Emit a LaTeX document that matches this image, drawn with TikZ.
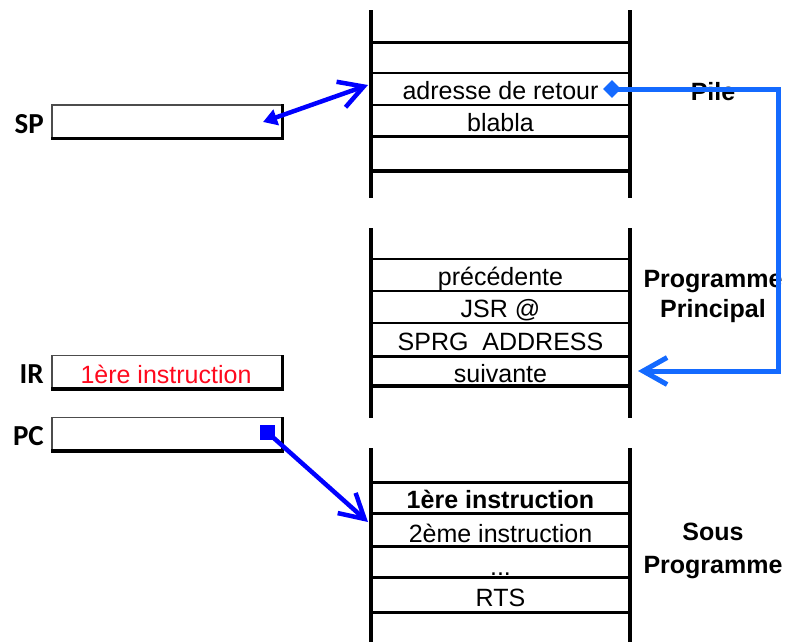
\documentclass[tikz,border=0pt]{standalone}
\usepackage{fontspec}
\setmainfont{Liberation Sans}
\newfontfamily\regfont{Carlito}
\usetikzlibrary{arrows.meta,shapes.geometric}
\definecolor{pblue}{RGB}{20,106,255}
\definecolor{dblue}{RGB}{0,0,255}
\definecolor{ired}{RGB}{255,10,30}
\begin{document}
\begin{tikzpicture}[x=1pt,y=-1pt,
  cell/.style={font=\fontsize{25}{25}\selectfont, anchor=base, inner sep=0},
  lab/.style={font=\fontsize{25}{25}\selectfont\bfseries, anchor=base, inner sep=0},
  reg/.style={font=\regfont\fontsize{29}{29}\selectfont\bfseries, anchor=base east, inner sep=0},
  regbox/.style={draw=black!70, line width=1.2pt, fill=white, minimum width=230pt, minimum height=33pt, inner sep=0},
  wall/.style={line width=4pt},
  thin row/.style={line width=1.4pt},
  mid row/.style={line width=3pt},
  thick row/.style={line width=4.5pt},
  open tip/.style={-{Straight Barb[length=24pt,width=27pt]}},
]
\useasboundingbox (0,0) rectangle (786,641);

% ---------- Pile ----------
\draw[wall] (371,10) -- (371,198);
\draw[wall] (630,10) -- (630,198);
\draw[mid row]   (371,42)  -- (630,42);
\draw[thin row]  (371,73)  -- (630,73);
\draw[thin row]  (371,105) -- (630,105);
\draw[mid row]   (371,136) -- (630,136);
\draw[thick row] (371,171) -- (630,171);
\node[cell] (adr) at (500.5,99) {adresse de retour};
\node[cell] (bla) at (500.5,131) {blabla};
\node[lab] (pile) at (713,100) {Pile};

% ---------- Programme principal ----------
\draw[wall] (371,228) -- (371,418);
\draw[wall] (630,228) -- (630,418);
\draw[thin row]  (371,259) -- (630,259);
\draw[thin row]  (371,291) -- (630,291);
\draw[thin row]  (371,323) -- (630,323);
\draw[mid row]   (371,356) -- (630,356);
\draw[thick row] (371,386) -- (630,386);
\node[cell] (prec) at (500.5,285) {précédente};
\node[cell] (jsr)  at (500.5,317) {JSR @};
\node[cell] (sprg) at (500.5,350) {SPRG\ \ ADDRESS};
\node[cell] (suiv) at (500.5,382) {suivante};
\node[lab] (pp1) at (713,287) {Programme};
\node[lab] (pp2) at (713,317) {Principal};

% ---------- Sous programme ----------
\draw[wall] (371,448) -- (371,645);
\draw[wall] (630,448) -- (630,645);
\draw[mid row]   (371,482) -- (630,482);
\draw[mid row]   (371,513) -- (630,513);
\draw[mid row]   (371,546) -- (630,546);
\draw[mid row]   (371,577) -- (630,577);
\draw[mid row]   (371,612) -- (630,612);
\node[lab]  (i1)  at (500.5,508) {1ère instruction};
\node[cell] (i2)  at (500.5,542) {2ème instruction};
\node[cell] (dots) at (500.5,575) {...};
\node[cell] (rts) at (500.5,606) {RTS};
\node[lab] (sp1) at (713,540) {Sous};
\node[lab] (sp2) at (713,573) {Programme};

% ---------- Registres ----------
\node[regbox] (spbox) at (167,121.5) {};
\draw[line width=3.5pt, line join=miter] (spbox.south west) -- (spbox.south east) -- (spbox.north east);
\node[reg] (splab) at (44,133) {SP};

\node[regbox] (irbox) at (167,372) {};
\draw[line width=3.5pt, line join=miter] (irbox.south west) -- (irbox.south east) -- (irbox.north east);
\node[reg] (irlab) at (44,383) {IR};
\node[cell, text=ired] (irtxt) at (166,383) {1ère instruction};

\node[regbox] (pcbox) at (167,434) {};
\draw[line width=3.5pt, line join=miter] (pcbox.south west) -- (pcbox.south east) -- (pcbox.north east);
\node[reg] (pclab) at (44,445) {PC};

% ---------- Flèches ----------
\coordinate (spin) at (263,122);
\coordinate (adrin) at (368,85);
\draw[dblue, line width=4.5pt, {Triangle[length=14pt,width=16pt]}-{Straight Barb[length=24pt,width=27pt]}] (spin) -- (adrin);

\node[fill=dblue, minimum size=15pt, inner sep=0] (pcsq) at (267,432) {};
\coordinate (subin) at (368,522);
\draw[dblue, line width=4.5pt, open tip] (pcsq.center) -- (subin);

\node[diamond, aspect=1, fill=pblue, minimum width=18pt, minimum height=18pt, inner sep=0] (dia) at (612,89) {};
\coordinate (pcorner) at (778,89);
\coordinate (suivin) at (638,371);
\draw[pblue, line width=5pt, open tip] (dia.center) -- (pcorner) |- (suivin);
\end{tikzpicture}
\end{document}
